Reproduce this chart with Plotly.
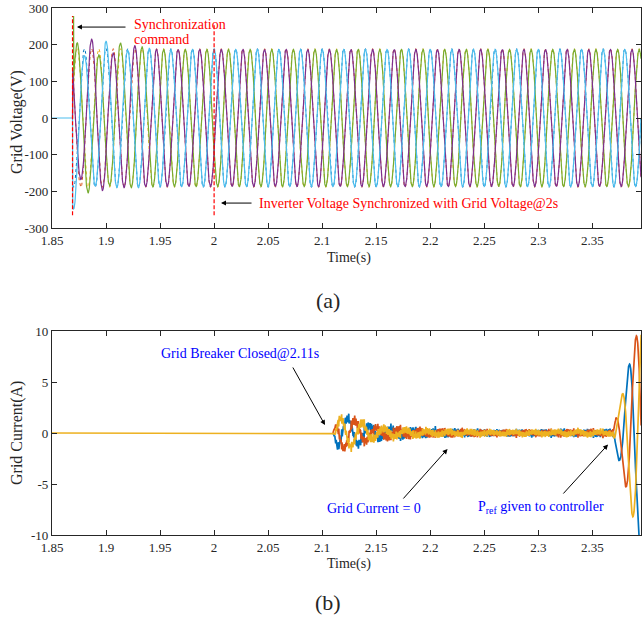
import numpy as np
import plotly.graph_objects as go

FONT = "Liberation Serif"
F0 = 50.0  # Hz (one cycle = 0.02 s)

# ---------------- (a) grid / inverter voltage ----------------
t_start, t_end = 1.85, 2.395
sync_time = 1.869          # synchronization command
synced_time = 2.0          # inverter synchronized
v_steady = 187
grid_amp = 189

# phase reference peak times (positive peak)
cyan_ref, purple_ref, green_ref = 2.0, 2.00667, 2.01333
# half-cycle peak values read from the transient
cyan_peak_t = [1.870, 1.880, 1.890, 1.900, 1.910, 1.920, 1.930, 1.940]
cyan_peak_v = [-248, 170, -185, 209, -190, 185, -190, 190]
purple_peak_t = [1.8767, 1.8867, 1.8967, 1.9067, 1.9167, 1.9267, 1.9367]
purple_peak_v = [-168, 215, -198, 177, -190, 197, -188]
green_peak_t = [1.8733, 1.8833, 1.8933, 1.9033, 1.9133, 1.9233, 1.9333, 1.9433]
green_peak_v = [205, -205, 172, -185, 205, -190, 194, -188]
green_spike_t, green_spike_v = [1.8700], [278]

v_ticks = [1.85, 1.9, 1.95, 2.0, 2.05, 2.1, 2.15, 2.2, 2.25, 2.3, 2.35]
v_tick_text = ["1.85", "1.9", "1.95", "2", "2.05", "2.1", "2.15", "2.2", "2.25", "2.3", "2.35"]
v_yticks = [300, 200, 100, 0, -100, -200, -300]
v_ytick_text = ["300", "200", "100", "0", "-100", "-200", "-300"]

# ---------------- (b) grid current ----------------
breaker_time = 2.11
pref_time = 2.371
blue_ref, orange_ref, yellow_ref = 2.3837, 2.3903, 2.3970
cur_env_t = [2.1100, 2.1140, 2.1200, 2.1300, 2.1400, 2.1500, 2.1700, 2.2000, 2.2500,
             2.3690, 2.3737, 2.3770, 2.3803, 2.3837, 2.3870, 2.3903, 2.3937, 2.3970]
cur_env_a = [0.0, 1.3, 1.5, 1.2, 0.8, 0.5, 0.35, 0.2, 0.12,
             0.12, 2.5, 3.6, 5.1, 6.6, 8.1, 9.4, 11.0, 12.5]
noise_env_a = [0.0, 0.5, 0.55, 0.55, 0.55, 0.5, 0.48, 0.42, 0.36,
               0.36, 0.0, 0.0, 0.0, 0.0, 0.0, 0.0, 0.0, 0.0]
noise_freqs = [612, 947, 1385, 1871, 2437, 3119]
noise_weights = [0.35, 0.30, 0.25, 0.20, 0.20, 0.15]
i_yticks = [10, 5, 0, -5, -10]
i_ytick_text = ["10", "5", "0", "-5", "-10"]

# ---------------- build waveforms ----------------
tv = np.arange(t_start, t_end + 0.0002, 0.0002)


def phase_wave(t, ref, peak_t, peak_v, steady):
    k = np.round((t - ref) / 0.01)
    amp = np.full_like(t, float(steady))
    for pt, pv in zip(peak_t, peak_v):
        amp[k == round((pt - ref) / 0.01)] = abs(pv)
    v = amp * np.cos(2 * np.pi * F0 * (t - ref))
    v[t < sync_time] = 0.0
    return v


def with_spikes(t, v, st, sv):
    tt = np.concatenate([t, st])
    vv = np.concatenate([v, sv])
    o = np.argsort(tt)
    return tt[o], vv[o]


def from_time(t, v, t0):
    """keep the samples from the last zero sample before t0 on (hidden overlap removed)"""
    m = t >= (t0 - 0.0003)
    return t[m], v[m]


v_cyan = phase_wave(tv, cyan_ref, cyan_peak_t, cyan_peak_v, v_steady)
v_purple = phase_wave(tv, purple_ref, purple_peak_t, purple_peak_v, v_steady)
v_green = phase_wave(tv, green_ref, green_peak_t, green_peak_v, v_steady)
tg, v_green = with_spikes(tv, v_green, green_spike_t, green_spike_v)
tg, v_green = from_time(tg, v_green, sync_time)
tp, v_purple = from_time(tv, v_purple, sync_time)

tgrid = tv[tv >= sync_time]
g_a = grid_amp * np.cos(2 * np.pi * F0 * (tgrid - cyan_ref))
g_b = grid_amp * np.cos(2 * np.pi * F0 * (tgrid - purple_ref))
g_c = grid_amp * np.cos(2 * np.pi * F0 * (tgrid - green_ref))

ti = np.arange(t_start, t_end + 0.0001, 0.0001)
env = np.interp(ti, cur_env_t, cur_env_a, left=0.0, right=cur_env_a[-1])
nenv = np.interp(ti, cur_env_t, noise_env_a, left=0.0, right=0.0)


def current(ref, p):
    n = np.zeros_like(ti)
    for i, (f, w) in enumerate(zip(noise_freqs, noise_weights)):
        n += w * np.sin(2 * np.pi * f * ti + 2 * np.pi * ((i * 0.37 + p * 0.61) % 1.0))
    i_ = env * np.cos(2 * np.pi * F0 * (ti - ref)) + nenv * n / 1.1
    i_[ti < breaker_time] = 0.0
    return i_


i_blue = current(blue_ref, 0)
i_orange = current(orange_ref, 1)
i_yellow = current(yellow_ref, 2)
tb, i_blue = from_time(ti, i_blue, breaker_time)
to, i_orange = from_time(ti, i_orange, breaker_time)

# ---------------- figure ----------------
W, H = 642, 618
fig = go.Figure()

for tt, yy, c in [(tgrid, g_b, "#D95319"), (tgrid, g_c, "#EDB120"), (tgrid, g_a, "#0072BD")]:
    fig.add_trace(go.Scatter(x=tt, y=yy, mode="lines", xaxis="x", yaxis="y",
                             line=dict(color=c, width=1, dash="3px,3px"), hoverinfo="skip"))
fig.add_trace(go.Scatter(x=tg, y=v_green, mode="lines", xaxis="x", yaxis="y",
                         line=dict(color="#77AC30", width=1.2)))
fig.add_trace(go.Scatter(x=tp, y=v_purple, mode="lines", xaxis="x", yaxis="y",
                         line=dict(color="#7E2F8E", width=1.2)))
fig.add_trace(go.Scatter(x=tv, y=v_cyan, mode="lines", xaxis="x", yaxis="y",
                         line=dict(color="#4DBEEE", width=1.2)))

for xx, yy, c in [(tb, i_blue, "#0072BD"), (to, i_orange, "#D95319"), (ti, i_yellow, "#EDB120")]:
    fig.add_trace(go.Scatter(x=xx, y=yy, mode="lines", xaxis="x2", yaxis="y2",
                             line=dict(color=c, width=1.7)))

ax_common = dict(showgrid=False, zeroline=False, showline=True, linecolor="#262626",
                 linewidth=1.2, mirror="ticks", ticks="inside", ticklen=5, automargin=False,
                 tickcolor="#262626", tickfont=dict(family=FONT, size=13, color="#262626"))

fig.update_layout(
    width=W, height=H, margin=dict(l=0, r=0, t=0, b=0, autoexpand=False),
    paper_bgcolor="white", plot_bgcolor="white", showlegend=False,
    xaxis=dict(domain=[52 / W, 641 / W], range=[t_start, t_end], anchor="y",
               tickvals=v_ticks, ticktext=v_tick_text, **ax_common),
    yaxis=dict(domain=[(H - 228) / H, (H - 8) / H], range=[-300, 300], anchor="x",
               tickvals=v_yticks, ticktext=v_ytick_text, **ax_common),
    xaxis2=dict(domain=[52 / W, 641 / W], range=[t_start, t_end], anchor="y2",
                tickvals=v_ticks, ticktext=v_tick_text, **ax_common),
    yaxis2=dict(domain=[(H - 535) / H, (H - 331) / H], range=[-10, 10], anchor="x2",
                tickvals=i_yticks, ticktext=i_ytick_text, **ax_common),
)

# event lines
for tx, y0, y1 in [(sync_time, -265, 278), (synced_time, -265, 255)]:
    fig.add_shape(type="line", xref="x", yref="y", x0=tx, x1=tx, y0=y0, y1=y1,
                  line=dict(color="#FF0000", width=1.2, dash="4px,2px"))

red = dict(family=FONT, size=14, color="#FF0000")
blue = dict(family=FONT, size=14, color="#0000FF")


def arrow(xr, yr, hx, hy, tx, ty):
    fig.add_annotation(xref=xr, yref=yr, axref=xr, ayref=yr, x=hx, y=hy, ax=tx, ay=ty,
                       text="", showarrow=True, arrowhead=2, arrowsize=1, arrowwidth=1,
                       arrowcolor="#000000")


def label(xr, yr, x, y, text, font, xanchor="center"):
    fig.add_annotation(xref=xr, yref=yr, x=x, y=y, text=text, showarrow=False,
                       font=font, xanchor=xanchor, yanchor="middle")


arrow("x", "y", 1.8731, 248, 1.9194, 248)
label("x", "y", 1.924, 256, "Synchronization", red, "left")
label("x", "y", 1.924, 215, "command", red, "left")
arrow("x", "y", 2.0064, -232, 2.036, -232)
label("x", "y", 2.0397, -232, "Inverter Voltage Synchronized with Grid Voltage@2s", red, "left")

arrow("x2", "y2", 2.1026, 0.78, 2.0721, 6.57)
label("x2", "y2", 2.0244, 7.84, "Grid Breaker Closed@2.11s", blue)
arrow("x2", "y2", 2.216, -1.57, 2.1739, -6.57)
label("x2", "y2", 2.148, -7.45, "Grid Current = 0", blue)
arrow("x2", "y2", 2.3645, -1.13, 2.3219, -6.08)
label("x2", "y2", 2.3025, -7.3, "P<sub>ref</sub> given to controller", blue)

# axis titles and panel labels
for x, y, txt, ang, sz in [(17, 122, "Grid Voltage(V)", -90, 16),
                           (349, 258, "Time(s)", 0, 14),
                           (328, 300, "(a)", 0, 22),
                           (17, 433, "Grid Current(A)", -90, 16),
                           (349, 564, "Time(s)", 0, 14),
                           (328, 602, "(b)", 0, 22)]:
    fig.add_annotation(xref="paper", yref="paper", x=x / W, y=1 - y / H, text=txt,
                       textangle=ang, showarrow=False,
                       font=dict(family=FONT, size=sz, color="#262626"),
                       xanchor="center", yanchor="middle")

fig.write_html("out.html", config={"displayModeBar": False},
               post_script="document.body.style.margin='0';document.body.style.overflow='hidden';")
